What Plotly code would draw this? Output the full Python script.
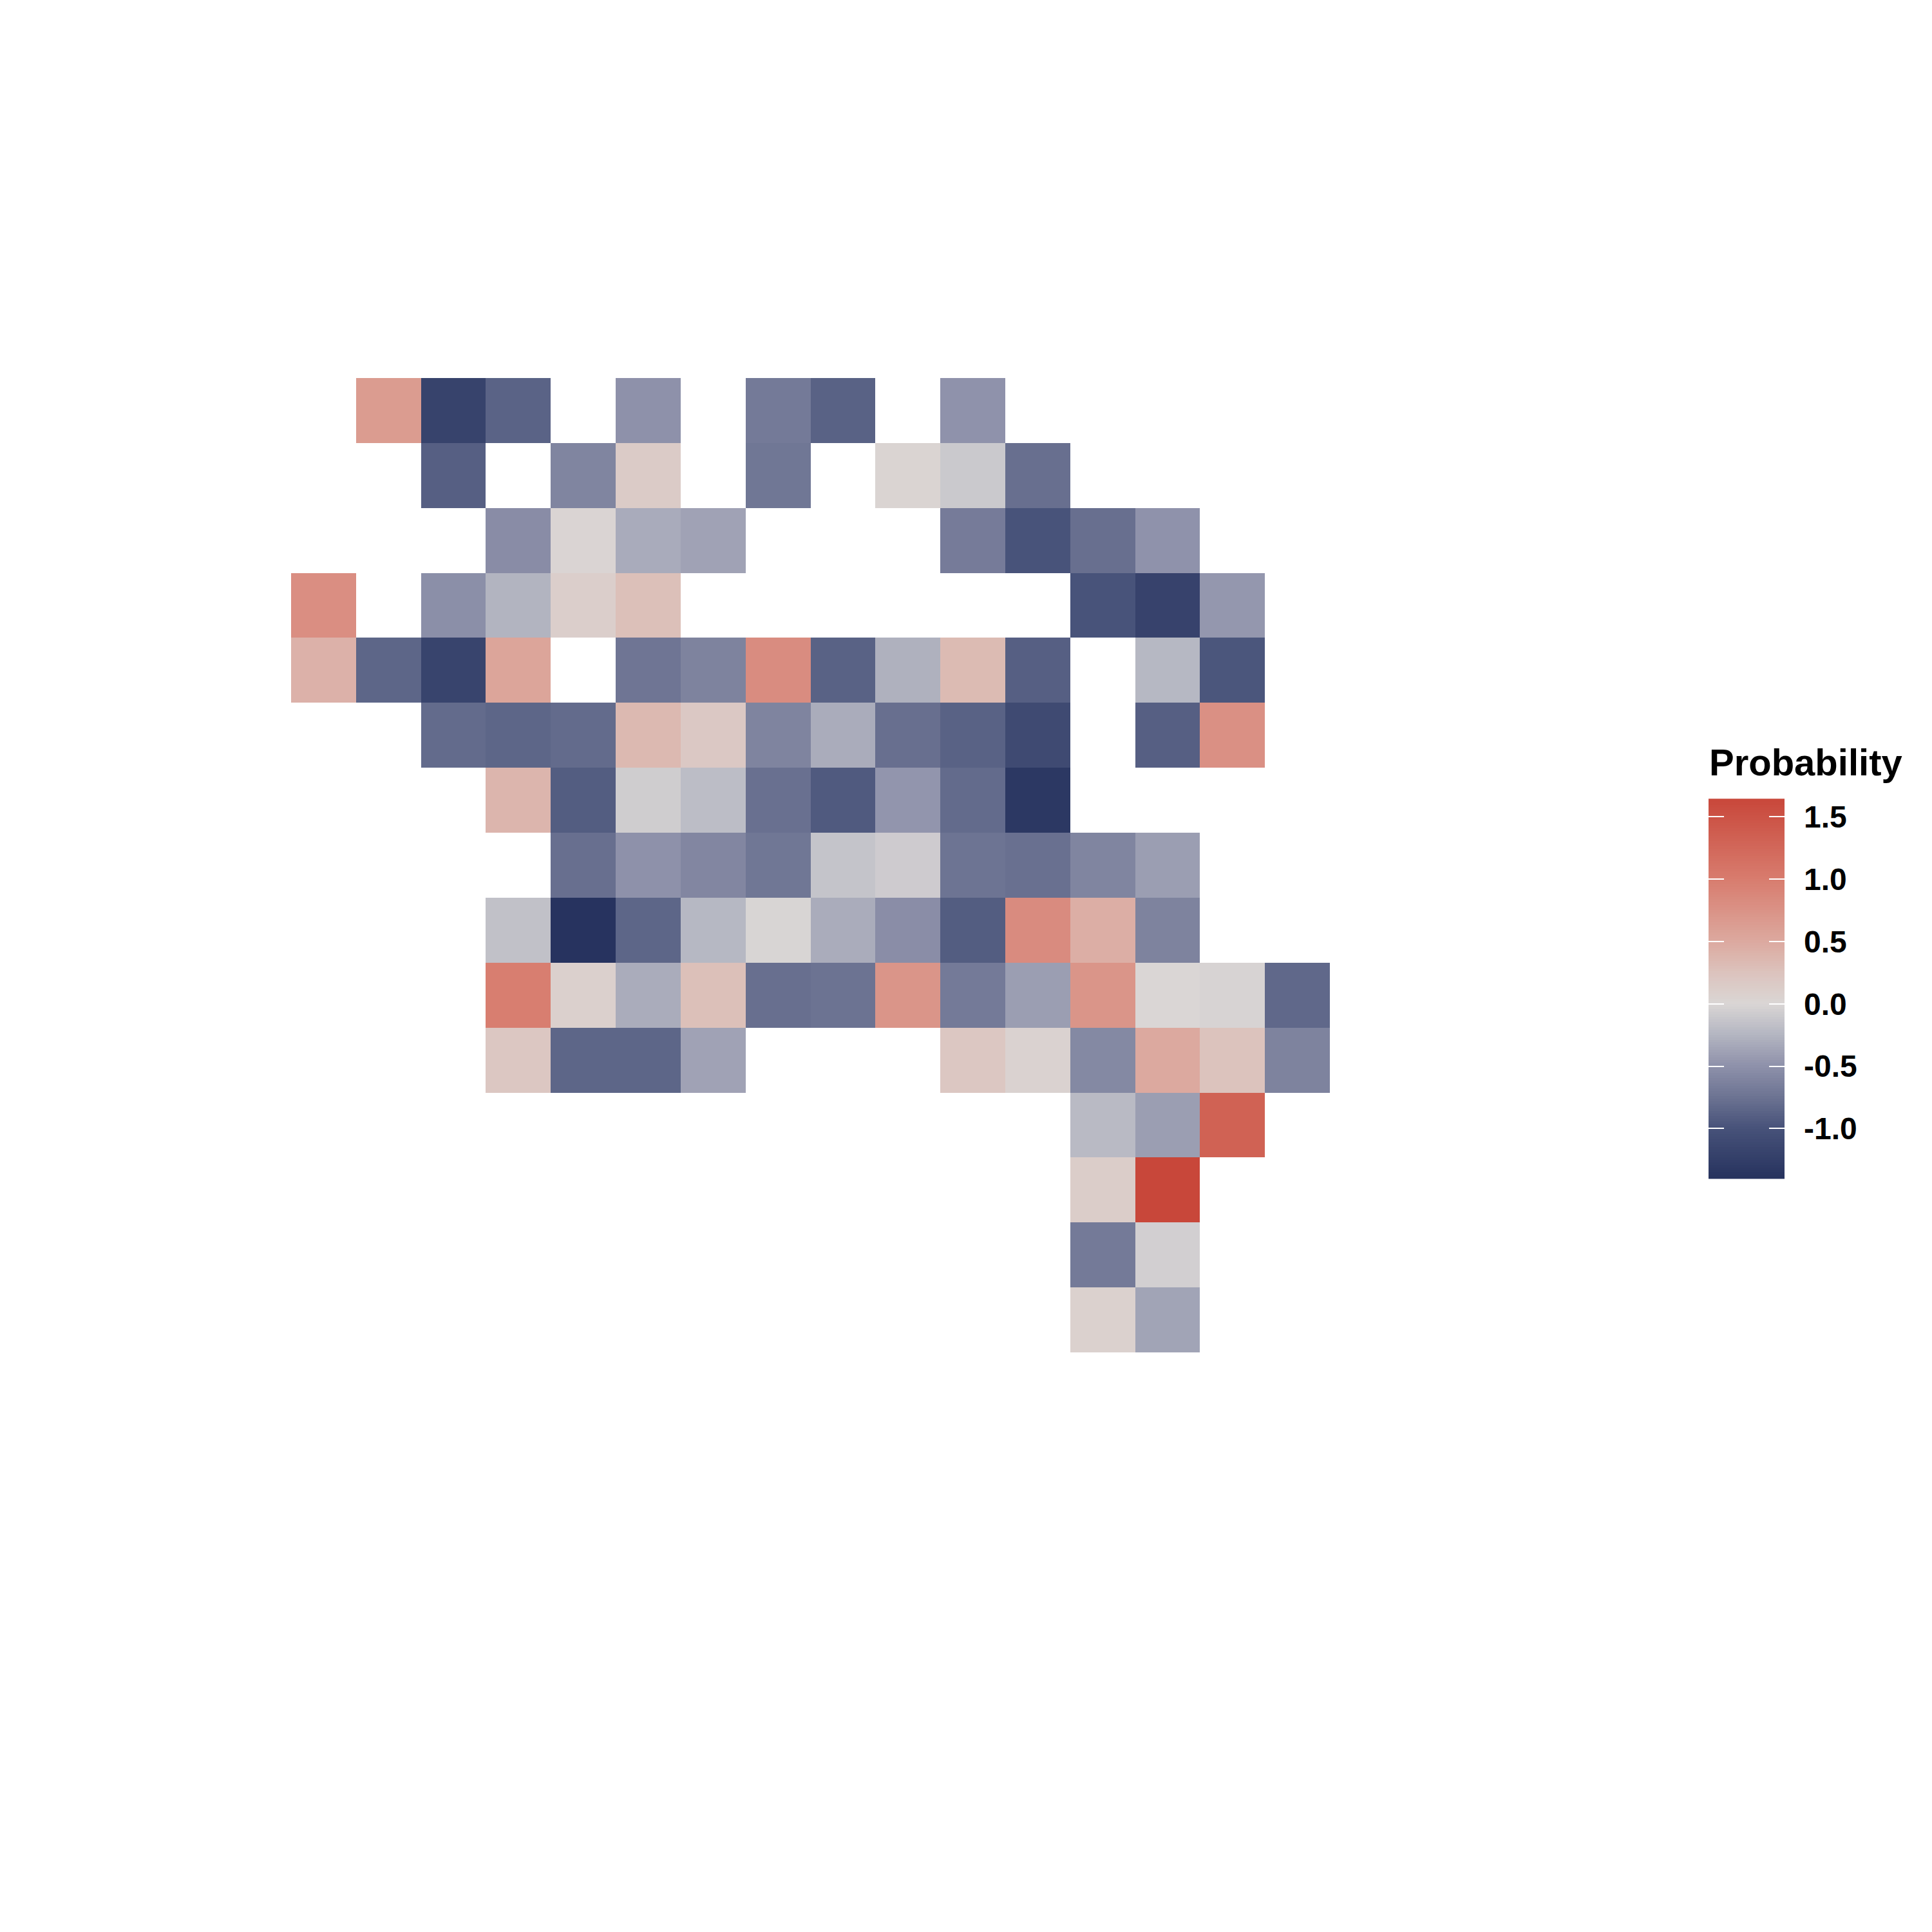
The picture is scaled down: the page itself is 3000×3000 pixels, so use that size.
import numpy as np
import plotly.graph_objects as go

N = None
row00 = [N, 0.65, -1.19, -0.87, N, -0.5, N, -0.69, -0.88, N, -0.49, N, N, N, N, N]
row01 = [N, N, -0.9, N, -0.6, 0.15, N, -0.72, N, 0.03, -0.1, -0.78, N, N, N, N]
row02 = [N, N, N, -0.54, 0.02, -0.32, -0.38, N, N, N, -0.68, -0.99, -0.78, -0.49, N, N]
row03 = [0.8, N, -0.52, -0.26, 0.1, 0.28, N, N, N, N, N, N, -0.99, -1.2, -0.46, N]
row04 = [0.42, -0.85, -1.18, 0.55, N, -0.73, -0.62, 0.82, -0.88, -0.28, 0.33, -0.9, N, -0.23, -0.97, N]
row05 = [N, N, -0.81, -0.85, -0.81, 0.35, 0.18, -0.61, -0.31, -0.78, -0.88, -1.1, N, -0.9, 0.78, N]
row06 = [N, N, N, 0.38, -0.92, -0.07, -0.19, -0.77, -0.94, -0.47, -0.81, -1.33, N, N, N, N]
row07 = [N, N, N, N, -0.78, -0.5, -0.59, -0.72, -0.14, -0.08, -0.74, -0.77, -0.6, -0.41, N, N]
row08 = [N, N, N, -0.16, -1.39, -0.85, -0.23, -0.01, -0.31, -0.53, -0.92, 0.83, 0.45, -0.62, N, N]
row09 = [N, N, N, 0.98, 0.08, -0.31, 0.28, -0.78, -0.75, 0.72, -0.69, -0.41, 0.72, 0.0, -0.02, -0.83]
row10 = [N, N, N, 0.2, -0.85, -0.85, -0.38, N, N, N, 0.2, 0.05, -0.57, 0.5, 0.25, -0.62]
row11 = [N, N, N, N, N, N, N, N, N, N, N, N, -0.21, -0.41, 1.32, N]
row12 = [N, N, N, N, N, N, N, N, N, N, N, N, 0.12, 1.64, N, N]
row13 = [N, N, N, N, N, N, N, N, N, N, N, N, -0.69, -0.05, N, N]
row14 = [N, N, N, N, N, N, N, N, N, N, N, N, 0.07, -0.37, N, N]
rows = [row00, row01, row02, row03, row04, row05, row06, row07, row08, row09, row10, row11, row12, row13, row14]

z_min, z_max = -1.404, 1.645
tick_values = [-1.0, -0.5, 0.0, 0.5, 1.0, 1.5]
tick_labels = ["-1.0", "-0.5", "0.0", "0.5", "1.0", "1.5"]
legend_title = "Probability"

stop_values = [-1.404, -1.0, -0.75, -0.5, -0.25, 0.0, 0.25, 0.5, 1.0, 1.645]
stop_colors = ["#26325E", "#475279", "#6C7392", "#8E91AA", "#B3B5C1", "#DAD6D5", "#DCC3BD", "#DCA99F", "#D87C6E", "#C8473A"]
colorscale = [[(v - z_min) / (z_max - z_min), c] for v, c in zip(stop_values, stop_colors)]

W = H = 3000
FONT = "Liberation Sans, Arial, sans-serif"
OFF_X, OFF_Y = 8, 8  # page offset of the plot inside the browser window
# pixel boxes: (left, top, right, bottom)
MAP = (452, 587, 2065, 2100)
BAR = (2653, 1240.3, 2771, 1830.6)

def dom_x(b):
    return [(b[0] - OFF_X) / W, (b[2] - OFF_X) / W]

def dom_y(b):
    return [1 - (b[3] - OFF_Y) / H, 1 - (b[1] - OFF_Y) / H]

# gradient bands of the legend bar
legend_steps = np.linspace(z_min, z_max, 150)

fig = go.Figure()
fig.add_trace(go.Heatmap(
    z=rows, colorscale=colorscale, zmin=z_min, zmax=z_max,
    showscale=False, hoverongaps=False, xaxis="x", yaxis="y", name="Probability",
))
fig.add_trace(go.Heatmap(
    z=[[v] for v in legend_steps], y=legend_steps, x=[0],
    colorscale=colorscale, zmin=z_min, zmax=z_max,
    showscale=False, xaxis="x2", yaxis="y2", hoverinfo="skip",
))

fig.update_layout(
    width=W, height=H,
    margin=dict(l=0, r=0, t=0, b=0, pad=0),
    paper_bgcolor="white", plot_bgcolor="white",
    font=dict(family=FONT, color="black"),
    xaxis=dict(domain=dom_x(MAP), range=[-0.5, 15.5], visible=False, anchor="y"),
    yaxis=dict(domain=dom_y(MAP), range=[14.5, -0.5], visible=False, anchor="x"),
    xaxis2=dict(domain=dom_x(BAR), range=[-0.5, 0.5], visible=False, anchor="y2"),
    yaxis2=dict(
        domain=dom_y(BAR), range=[z_min, z_max], anchor="x2", side="right",
        tickmode="array", tickvals=tick_values, ticktext=tick_labels,
        ticks="inside", ticklen=24, tickwidth=1.5, tickcolor="white",
        mirror="ticks", showgrid=False, zeroline=False, showline=False,
        ticklabelstandoff=29,
        tickfont=dict(family=FONT, size=48, color="black", weight="bold"),
    ),
    annotations=[dict(
        text="<b>" + legend_title + "</b>", xref="paper", yref="paper",
        x=(2653 - OFF_X) / W, y=1 - (1216.5 - OFF_Y) / H, xanchor="left", yanchor="bottom",
        showarrow=False, align="left", borderpad=0,
        font=dict(family=FONT, size=58, color="black"),
    )],
)
fig.write_html("out.html")
